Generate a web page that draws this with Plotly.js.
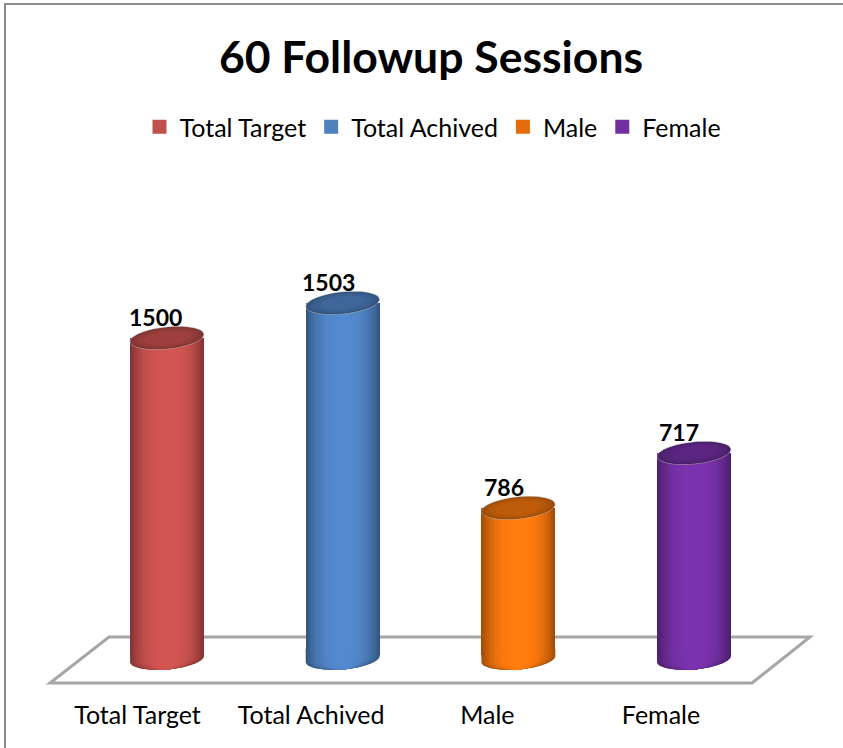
<!DOCTYPE html>
<html><head><meta charset="utf-8">
<script src="https://cdn.plot.ly/plotly-3.0.1.min.js"></script>
<style>html,body{margin:0;padding:0;background:#fff}#c{width:843px;height:748px}</style>
</head><body><div id="c"></div>
<script>
const categories = ["Total Target", "Total Achived", "Male", "Female"];
const printedLabels = [1500, 1503, 786, 717];
// Heights as drawn in the picture (they do not follow the printed labels), on the scale red = 1500.
const drawnHeights = [1500, 1666, 696, 956];
const colors = ["#c0504d", "#4f81bd", "#e46c0a", "#7030a0"];
const bodyColors = ["#c9514e", "#4f83c4", "#f5760c", "#7530a6"];

const W = 843, H = 748;
const unitPx = 175.67, firstBarPx = 167, baselinePx = 655, plotBottomPx = 690;
const valuePerPx = 1500 / 317;
const barWidth = 74 / unitPx;
const xr = [(0 - firstBarPx) / unitPx, (W - firstBarPx) / unitPx];
const yr = [-(plotBottomPx - baselinePx) * valuePerPx, baselinePx * valuePerPx];

function shade(hex, f) {
  const n = parseInt(hex.slice(1), 16);
  const c = [n >> 16, (n >> 8) & 255, n & 255].map(v => Math.round(Math.min(255, v * f)));
  return `rgb(${c[0]},${c[1]},${c[2]})`;
}
const toPath = pts => "M" + pts.map(p => p[0].toFixed(4) + "," + p[1].toFixed(1)).join("L") + "Z";
// tilted ellipse as a path in data units
function ellipse(cx, cy, rxPx, ryPx, risePx) {
  const pts = [];
  for (let a = 0; a < 360; a += 8) {
    const t = a * Math.PI / 180;
    const dx = rxPx * Math.cos(t), dy = ryPx * Math.sin(t) + risePx * Math.cos(t);
    pts.push([cx + dx / unitPx, cy + dy * valuePerPx]);
  }
  return toPath(pts);
}
// curved foot of a cylinder: lower half of the tilted ellipse, closed under the bar
function foot(cx, cyPx, rxPx, ryPx, risePx) {
  const pts = [];
  for (let a = 0; a <= 180; a += 8) {
    const t = a * Math.PI / 180;
    const dx = rxPx * Math.cos(t), dy = cyPx - ryPx * Math.sin(t) + risePx * Math.cos(t);
    pts.push([cx + dx / unitPx, dy * valuePerPx]);
  }
  pts.push([cx - rxPx / unitPx, 6 * valuePerPx], [cx + rxPx / unitPx, 6 * valuePerPx]);
  return toPath(pts);
}
const px = x => (x - firstBarPx) / unitPx;
const py = y => (baselinePx - y) * valuePerPx;

const levels = [];
for (let k = 0; k < 18; k++) { const w = 1 - k * 0.052; levels.push([w, 1.05 - 0.39 * w * w * w]); }
const traces = [], below = [], above = [];

below.push({type:"path", layer:"below", xref:"x", yref:"y", line:{color:"#a6a6a6", width:3},
  path:`M${px(50)},${py(683)}L${px(752)},${py(683)}L${px(810)},${py(637)}L${px(109)},${py(637)}Z`});

categories.forEach((cat, i) => {
  traces.push({type:"bar", name:cat, x:[i], y:[drawnHeights[i]], width:barWidth * 0.9,
    marker:{color:colors[i], line:{color:colors[i], width:2}}, hoverinfo:"skip"});
  levels.forEach(([w, f]) => {
    traces.push({type:"bar", x:[i], y:[drawnHeights[i]], width:barWidth * w, showlegend:false,
      marker:{color:shade(bodyColors[i], f), line:{width:0}}, hoverinfo:"skip"});
    above.push({type:"path", layer:"above", xref:"x", yref:"y", line:{width:0},
      fillcolor:shade(bodyColors[i], f), path:foot(i, -4, 37 * w, 10.5, 3 * w)});
  });
  [[1, .6], [.95, .66], [.88, .7], [.78, .74], [.62, .78]].forEach(([w, f]) => {
    above.push({type:"path", layer:"above", xref:"x", yref:"y",
      line: w === 1 ? {color:"rgba(190,190,190,0.5)", width:1} : {width:0},
      fillcolor:shade(bodyColors[i], f), path:ellipse(i, drawnHeights[i], 36.8 * w, 11 * w, 3.5 * w)});
  });
});

const labelShift = [-12, -14, -14, -15];
const tickShiftPx = [-29.5, -31.5, -31, -33];
const annotations = categories.map((c, i) => ({
  x:i, y:drawnHeights[i], xref:"x", yref:"y", text:"<b>" + printedLabels[i] + "</b>", showarrow:false,
  xshift:labelShift[i], yshift:5, yanchor:"bottom", font:{family:"Lato", size:23, color:"#000"}
}));

const layout = {
  width:W, height:H, paper_bgcolor:"#fff", plot_bgcolor:"rgba(0,0,0,0)", barmode:"overlay", bargap:0,
  margin:{l:0, r:0, t:0, b:H - plotBottomPx, pad:0},
  title:{text:"<b>60 Followup Sessions</b>", x:431/W, xanchor:"center", y:1-57/H, yanchor:"middle", yref:"container",
    font:{family:"Lato", size:44.5, color:"#000"}},
  legend:{orientation:"h", x:433/W, xanchor:"center", y:1-127/plotBottomPx, yanchor:"middle",
    font:{family:"Lato", size:25, color:"#000"}, traceorder:"normal", itemclick:false, itemdoubleclick:false,
    bgcolor:"rgba(0,0,0,0)"},
  xaxis:{range:xr, tickmode:"array", tickvals:categories.map((c, i) => i + tickShiftPx[i] / unitPx), ticktext:categories,
    showgrid:false, zeroline:false, showline:false, ticks:"", ticklabelstandoff:8,
    tickfont:{family:"Lato", size:25, color:"#000"}, fixedrange:true},
  yaxis:{range:yr, visible:false, showgrid:false, zeroline:false, fixedrange:true},
  shapes:[...below, ...above,
    {type:"line", xref:"paper", yref:"paper", x0:5/W, x1:5/W, y0:-1, y1:1-4/plotBottomPx, line:{color:"#8c8c8c", width:2}},
    {type:"line", xref:"paper", yref:"paper", x0:4/W, x1:1, y0:1-4/plotBottomPx, y1:1-4/plotBottomPx, line:{color:"#8c8c8c", width:2}}],
  annotations, showlegend:true
};
Plotly.newPlot("c", traces, layout, {displayModeBar:false, staticPlot:true});
</script></body></html>
